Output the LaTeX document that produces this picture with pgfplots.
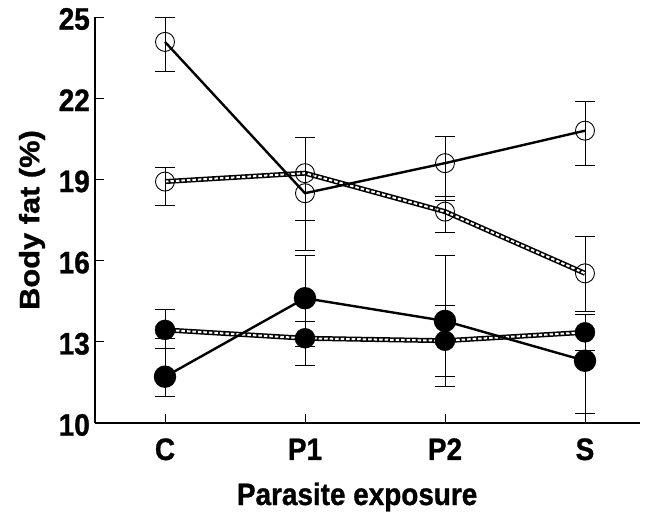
\documentclass[border=0pt]{standalone}
\usepackage{fontspec}
\setmainfont{Liberation Sans}
\newfontfamily\hfont[FakeStretch=0.9,FakeBold=1]{Liberation Sans}
\newfontfamily\vfont[FakeStretch=1.1,FakeBold=1]{Liberation Sans}
\usepackage{pgfplots}
\pgfplotsset{compat=1.18}
\pgfplotsset{
  ebar/.style={error bars/.cd, y dir=both, y explicit,
    error bar style={line width=0.8pt, black, solid},
    error mark options={rotate=90, line width=0.8pt, mark size=10pt, black, solid}},
}
\begin{document}
\begin{tikzpicture}
\path[use as bounding box] (-95pt,-91pt) rectangle (551pt,423pt);
\begin{axis}[
  at={(0,0)}, anchor=south west,
  scale only axis, width=545pt, height=406pt,
  xmin=-0.5, xmax=3.393, ymin=10, ymax=25,
  axis lines*=left,
  axis line style={line width=1.8pt},
  xtick={0,1,2,3}, xticklabels={C,P1,P2,S},
  ytick={10,13,16,19,22,25},
  tick align=inside,
  major tick length=9pt,
  tick style={line width=0.8pt, black},
  /pgf/number format/assume math mode=true,
  ticklabel style={font=\hfont\fontsize{31}{33}\selectfont\bfseries},
  xticklabel style={anchor=base, yshift=-37pt},
  yticklabel style={anchor=east, inner sep=0pt, xshift=-5pt, yshift=-2pt},
  xlabel={Parasite exposure}, ylabel={Body fat (\%)},
  xlabel style={font=\hfont\fontsize{31}{33}\selectfont\bfseries,
    at={(axis description cs:0.481,-0.202)}, anchor=base},
  ylabel style={font=\vfont\fontsize{28}{30}\selectfont\bfseries,
    at={(axis description cs:-0.1156,0.5)}, anchor=center},
  clip=false,
]
% ---- open circles, dashed (double) line
\addplot[line width=5pt, black] coordinates {(0,18.92)(1,19.23)(2,17.81)(3,15.53)};
\addplot[line width=2pt, white, dash pattern=on 3.5pt off 2pt] coordinates {(0,18.92)(1,19.23)(2,17.81)(3,15.53)};
% ---- filled circles, dashed (double) line
\addplot[line width=5pt, black] coordinates {(0,13.44)(1,13.13)(2,13.04)(3,13.35)};
\addplot[line width=2pt, white, dash pattern=on 3.5pt off 2pt] coordinates {(0,13.44)(1,13.13)(2,13.04)(3,13.35)};
% marks + error bars for dashed series
\addplot[only marks, black, mark=o, mark size=9.5pt, mark options={line width=0.9pt}, ebar]
  coordinates {(0,18.92) += (0,0.53) -= (0,0.88)
               (1,19.23) += (0,1.33) -= (0,1.73)
               (2,17.81) += (0,0.55) -= (0,0.78)
               (3,15.53) += (0,1.35) -= (0,1.39)};
\addplot[only marks, black, mark=*, mark size=10pt, mark options={fill=black}, ebar]
  coordinates {(0,13.44) += (0,0.76) -= (0,0.68)
               (1,13.13) += (0,0.61) -= (0,0.99)
               (2,13.04) += (0,1.29) -= (0,1.67)
               (3,13.35) += (0,0.67) -= (0,0.65)};
% ---- open circles, solid line
\addplot[line width=2.4pt, black, mark=o, mark size=9.5pt, mark options={line width=0.9pt}, ebar]
  coordinates {(0,24.08) += (0,0.90) -= (0,1.09)
               (1,18.49) += (0,2.07) -= (0,2.12)
               (2,19.60) += (0,0.98) -= (0,1.39)
               (3,20.80) += (0,1.10) -= (0,1.29)};
% ---- filled circles, solid line
\addplot[line width=2.4pt, black, mark=*, mark size=10pt, mark options={fill=black}, ebar]
  coordinates {(0,11.71) += (0,1.42) -= (0,0.71)
               (1,14.61) += (0,1.60) -= (0,1.79)
               (2,13.77) += (0,2.44) -= (0,2.03)
               (3,12.30) += (0,1.72) -= (0,1.94)};
\end{axis}
\end{tikzpicture}
\end{document}
